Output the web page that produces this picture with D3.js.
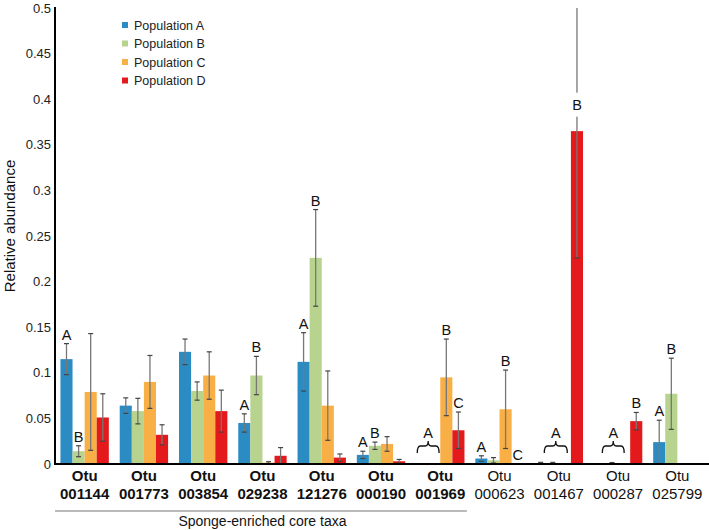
<!DOCTYPE html>
<html>
<head>
<meta charset="utf-8">
<script src="https://cdn.jsdelivr.net/npm/d3@7/dist/d3.min.js"></script>
<style>
  body { margin: 0; background: #fff; }
  svg { display: block; font-family: "Liberation Sans", Arial, sans-serif; }
</style>
</head>
<body>
<div id="chart"></div>
<script>
// otu ids on the x axis, first 7 are the core taxa (bold)
var groups = ["001144", "001773", "003854", "029238", "121276", "000190", "001969", "000623", "001467", "000287", "025799"];
var coreTaxa = 7;
var seriesNames = ["Population A", "Population B", "Population C", "Population D"];
var seriesColors = ["#2b8cc4", "#b7d38d", "#f8b046", "#e4191c"];

// mean relative abundance per population
var popA = [0.115, 0.064, 0.123, 0.045, 0.112, 0.010, 0, 0.006, 0.001, 0, 0.024];
var popB = [0.014, 0.058, 0.080, 0.097, 0.226, 0.020, 0, 0.004, 0.001, 0.001, 0.077];
var popC = [0.079, 0.090, 0.097, 0.0015, 0.064, 0.022, 0.095, 0.060, 0, 0, 0];
var popD = [0.051, 0.032, 0.058, 0.009, 0.007, 0.003, 0.037, 0, 0.365, 0.047, 0];
// error (+/-)
var errA = [0.017, 0.0085, 0.014, 0.010, 0.032, 0.004, 0, 0.003, 0.0008, 0, 0.024];
var errB = [0.006, 0.014, 0.010, 0.021, 0.053, 0.004, 0, 0.003, 0.0008, 0.0006, 0.039];
var errC = [0.064, 0.029, 0.026, 0.001, 0.038, 0.008, 0.042, 0.043, 0, 0, 0];
var errD = [0.026, 0.011, 0.023, 0.009, 0.004, 0.002, 0.020, 0, 0.139, 0.0095, 0];

var yTicks = [0, 0.05, 0.1, 0.15, 0.2, 0.25, 0.3, 0.35, 0.4, 0.45, 0.5];

// significance letters: [group, series, letter, fixed value (optional)]
var letters = [
  [0, 0, "A"], [0, 1, "B"],
  [3, 0, "A"], [3, 1, "B"],
  [4, 0, "A"], [4, 1, "B"],
  [5, 0, "A"], [5, 1, "B"],
  [6, 2, "B"], [6, 3, "C"],
  [7, 0, "A"], [7, 2, "B"], [7, 3, "C"],
  [8, 3, "B", 0.394],
  [9, 3, "B"],
  [10, 0, "A"], [10, 1, "B"]
];
// braces over several bars: [group, from bar, to bar, letter]
var braces = [[6, 0.1, 1.9, "A"], [8, 0.8, 2.7, "A"], [9, 0.7, 2.5, "A"]];

var width = 709, height = 530;
var padLeft = 55, padRight = 707, padTop = 8, axisY = 464;

var svg = d3.select("#chart").append("svg")
  .attr("width", width)
  .attr("height", height);

var y = d3.scaleLinear().domain([0, 0.5]).range([axisY, padTop]);
var x = d3.scaleBand().domain(groups).range([padLeft, padRight]).paddingInner(0).paddingOuter(0);
var xInner = d3.scaleBand().domain(d3.range(4)).range([0, x.bandwidth()]).paddingInner(0).paddingOuter(0.45);

var means = [popA, popB, popC, popD];
var errs = [errA, errB, errC, errD];

var bars = [];
groups.forEach(function(g, gi){
  for (var s = 0; s < 4; s++) {
    bars.push({group: g, gi: gi, s: s, v: means[s][gi], e: errs[s][gi]});
  }
});

// y axis labels
var yAxis = d3.axisLeft(y).tickValues(yTicks).tickSize(0).tickPadding(4)
  .tickFormat(function(d){ return String(+d.toFixed(2)); });
var ya = svg.append("g").attr("transform", "translate(" + padLeft + ",0)").call(yAxis);
ya.select(".domain").remove();
ya.selectAll("text").attr("font-size", 13).attr("fill", "#222")
  .attr("font-family", "'Liberation Sans', Arial, sans-serif");

svg.append("text")
  .attr("transform", "translate(15,226) rotate(-90)")
  .attr("text-anchor", "middle")
  .attr("font-size", 15)
  .attr("fill", "#111")
  .text("Relative abundance");

// bars
svg.append("g").selectAll("rect")
  .data(bars.filter(function(d){ return d.v > 0; }))
  .enter().append("rect")
  .attr("x", function(d){ return x(d.group) + xInner(d.s); })
  .attr("y", function(d){ return y(d.v); })
  .attr("width", xInner.bandwidth())
  .attr("height", function(d){ return axisY - y(d.v); })
  .attr("fill", function(d){ return seriesColors[d.s]; });

// error bars
var eb = svg.append("g").selectAll("g")
  .data(bars.filter(function(d){ return d.e > 0; }))
  .enter().append("g")
  .attr("transform", function(d){ return "translate(" + (x(d.group) + xInner(d.s) + xInner.bandwidth() / 2) + ",0)"; });
eb.append("line")
  .attr("y1", function(d){ return y(Math.min(0.5, d.v + d.e)); })
  .attr("y2", function(d){ return y(Math.max(0, d.v - d.e)); })
  .attr("stroke", "#777").attr("stroke-width", 1.3);
eb.each(function(d){
  var sel = d3.select(this);
  var ends = [];
  if (d.v + d.e <= 0.5) ends.push(d.v + d.e);
  ends.push(Math.max(0, d.v - d.e));
  ends.forEach(function(v){
    sel.append("line").attr("x1", -2.5).attr("x2", 2.5)
      .attr("y1", y(v)).attr("y2", y(v))
      .attr("stroke", "#444").attr("stroke-width", 1.2);
  });
});

// letters
var lt = svg.append("g").selectAll("g").data(letters).enter().append("g");
lt.each(function(d){
  var sel = d3.select(this);
  var cx = x(groups[d[0]]) + xInner(d[1]) + xInner.bandwidth() / 2;
  if (d.length > 3) {
    var cy = y(d[3]);
    sel.append("rect").attr("x", cx - 7).attr("y", cy - 12).attr("width", 14).attr("height", 24).attr("fill", "#fff");
    sel.append("text").attr("x", cx).attr("y", cy + 5).attr("text-anchor", "middle")
      .attr("font-size", 14.5).attr("fill", "#111").text(d[2]);
  } else {
    var v = means[d[1]][d[0]] + errs[d[1]][d[0]];
    sel.append("text").attr("x", cx).attr("y", y(v) - 4).attr("text-anchor", "middle")
      .attr("font-size", 14.5).attr("fill", "#111").text(d[2]);
  }
});

// braces
braces.forEach(function(b){
  var x0 = x(groups[b[0]]) + xInner(0) + b[1] * xInner.bandwidth();
  var x1 = x(groups[b[0]]) + xInner(0) + b[2] * xInner.bandwidth();
  var xm = (x0 + x1) / 2;
  var yl = 446, yEnd = 453, yTip = 441;
  var p = "M" + x0 + "," + yEnd + " Q" + x0 + "," + yl + " " + (x0 + 3) + "," + yl +
    " L" + (xm - 3) + "," + yl + " Q" + xm + "," + yl + " " + xm + "," + yTip +
    " Q" + xm + "," + yl + " " + (xm + 3) + "," + yl +
    " L" + (x1 - 3) + "," + yl + " Q" + x1 + "," + yl + " " + x1 + "," + yEnd;
  svg.append("path").attr("d", p).attr("fill", "none").attr("stroke", "#111").attr("stroke-width", 1.3);
  svg.append("text").attr("x", xm).attr("y", 438).attr("text-anchor", "middle")
    .attr("font-size", 14.5).attr("fill", "#111").text(b[3]);
});

// x axis
var xAxis = d3.axisBottom(x).tickSize(0).tickFormat("");
var xa = svg.append("g").attr("transform", "translate(0," + axisY + ")").call(xAxis);
xa.select(".domain").remove();
xa.selectAll(".tick").each(function(d, i){
  var t = d3.select(this).append("text")
    .attr("text-anchor", "middle")
    .attr("font-size", 15)
    .attr("font-weight", i < coreTaxa ? "bold" : "normal")
    .attr("fill", "#111");
  t.append("tspan").attr("x", 0).attr("y", 17).text("Otu");
  t.append("tspan").attr("x", 0).attr("y", 35).text(d);
});

svg.append("line").attr("x1", padLeft).attr("x2", width).attr("y1", axisY).attr("y2", axisY)
  .attr("stroke", "#000").attr("stroke-width", 2);
svg.append("line").attr("x1", padLeft).attr("x2", padLeft).attr("y1", padTop - 1).attr("y2", axisY + 1)
  .attr("stroke", "#000").attr("stroke-width", 2);

// core taxa bracket line
var coreEnd = x(groups[coreTaxa - 1]) + x.bandwidth();
svg.append("line").attr("x1", padLeft).attr("x2", coreEnd - 3).attr("y1", 511).attr("y2", 511)
  .attr("stroke", "#777").attr("stroke-width", 1.2);
svg.append("text").attr("x", (padLeft + coreEnd) / 2).attr("y", 526).attr("text-anchor", "middle")
  .attr("font-size", 14).attr("fill", "#111").text("Sponge-enriched core taxa");

// legend
var lg = svg.append("g").attr("transform", "translate(122,25)");
var li = lg.selectAll("g").data(seriesNames).enter().append("g")
  .attr("transform", function(d, i){ return "translate(0," + (i * 18.5) + ")"; });
li.append("rect").attr("x", 0).attr("y", -3).attr("width", 6).attr("height", 6)
  .attr("fill", function(d, i){ return seriesColors[i]; });
li.append("text").attr("x", 12).attr("y", 4.5).attr("font-size", 12.5).attr("fill", "#222")
  .text(function(d){ return d; });
</script>
</body>
</html>
